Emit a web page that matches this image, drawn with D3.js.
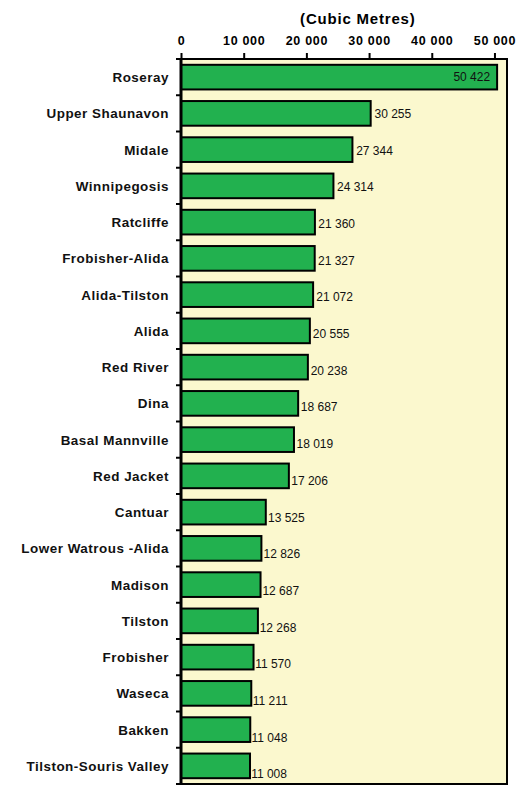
<!DOCTYPE html>
<html>
<head>
<meta charset="utf-8">
<script src="https://d3js.org/d3.v7.min.js"></script>
<style>
  body { margin: 0; background: #fff; }
  svg text { font-family: "Liberation Sans", Arial, sans-serif; }
</style>
</head>
<body>
<svg id="vis"></svg>
<script>
var categories = ["Roseray", "Upper Shaunavon", "Midale", "Winnipegosis", "Ratcliffe",
  "Frobisher-Alida", "Alida-Tilston", "Alida", "Red River", "Dina", "Basal Mannville",
  "Red Jacket", "Cantuar", "Lower Watrous -Alida", "Madison", "Tilston", "Frobisher",
  "Waseca", "Bakken", "Tilston-Souris Valley"];
var volumes = [50422, 30255, 27344, 24314, 21360, 21327, 21072, 20555, 20238, 18687,
  18019, 17206, 13525, 12826, 12687, 12268, 11570, 11211, 11048, 11008];
var xTicks = [0, 10000, 20000, 30000, 40000, 50000];
var axisTitle = "(Cubic Metres)";

var data = categories.map(function(c, i) { return {name: c, value: volumes[i]}; });

var margin = {top: 59, right: 18, bottom: 2, left: 181},
    width = 525 - margin.left - margin.right,
    height = 786 - margin.top - margin.bottom;

var fmt = function(v) { return d3.format(",")(v).replace(/,/g, " "); };

var svg = d3.select("#vis")
    .attr("width", 525)
    .attr("height", 786)
  .append("g")
    .attr("transform", "translate(" + margin.left + "," + margin.top + ")");

var x = d3.scaleLinear().domain([0, 52000]).range([0, width]);
var y = d3.scaleBand().domain(categories).range([0, height]).paddingInner(0.32).paddingOuter(0.16);

// plot background
svg.append("rect")
    .attr("width", width).attr("height", height)
    .attr("fill", "#fbf8ce")
    .attr("stroke", "#000").attr("stroke-width", 2);

// bars
svg.selectAll(".bar")
    .data(data)
  .enter().append("rect")
    .attr("x", 0)
    .attr("y", d => y(d.name))
    .attr("width", d => x(d.value))
    .attr("height", y.bandwidth())
    .attr("fill", "#22b14f")
    .attr("stroke", "#000")
    .attr("stroke-width", 2);

// value labels (first one sits inside the bar)
svg.selectAll(".val")
    .data(data)
  .enter().append("text")
    .attr("x", (d, i) => i === 0 ? x(d.value) - 7 : x(d.value) + 4 - 0.15 * i)
    .attr("y", (d, i) => y(d.name) + y.bandwidth() / 2 + (i === 0 ? 4 : 4 + 0.45 * i))
    .attr("text-anchor", (d, i) => i === 0 ? "end" : "start")
    .style("font-size", "12px")
    .attr("fill", "#111")
    .text(d => fmt(d.value));

// top axis
var xAxis = svg.append("g")
    .call(d3.axisTop(x).tickValues(xTicks).tickFormat(fmt).tickSize(6).tickPadding(8));
xAxis.select(".domain").remove();
xAxis.selectAll(".tick line").attr("stroke", "#000").attr("stroke-width", 2);
xAxis.selectAll("text")
    .style("font-size", "12.5px")
    .style("font-weight", "bold")
    .style("letter-spacing", "0.7px")
    .attr("fill", "#000");

svg.append("text")
    .attr("x", x(28200))
    .attr("y", -35)
    .attr("text-anchor", "middle")
    .style("font-size", "15px")
    .style("font-weight", "bold")
    .style("letter-spacing", "0.8px")
    .text(axisTitle);

// left axis with ticks at band boundaries
var bounds = d3.range(categories.length + 1).map(i => i * height / categories.length);
svg.selectAll(".ytick")
    .data(bounds)
  .enter().append("line")
    .attr("x1", -5).attr("x2", 0)
    .attr("y1", d => d).attr("y2", d => d)
    .attr("stroke", "#000").attr("stroke-width", 2);

svg.append("line")
    .attr("x1", 0).attr("x2", 0)
    .attr("y1", 0).attr("y2", height)
    .attr("stroke", "#000").attr("stroke-width", 3);

// category labels, slightly widened glyphs like the original
svg.selectAll(".cat")
    .data(categories)
  .enter().append("text")
    .attr("transform", d => "translate(-12," + (y(d) + y.bandwidth() / 2 + 5) + ") scale(1.12,1)")
    .attr("text-anchor", "end")
    .style("font-size", "12px")
    .style("font-weight", "bold")
    .style("letter-spacing", "0.45px")
    .attr("fill", "#111")
    .text(d => d);
</script>
</body>
</html>
